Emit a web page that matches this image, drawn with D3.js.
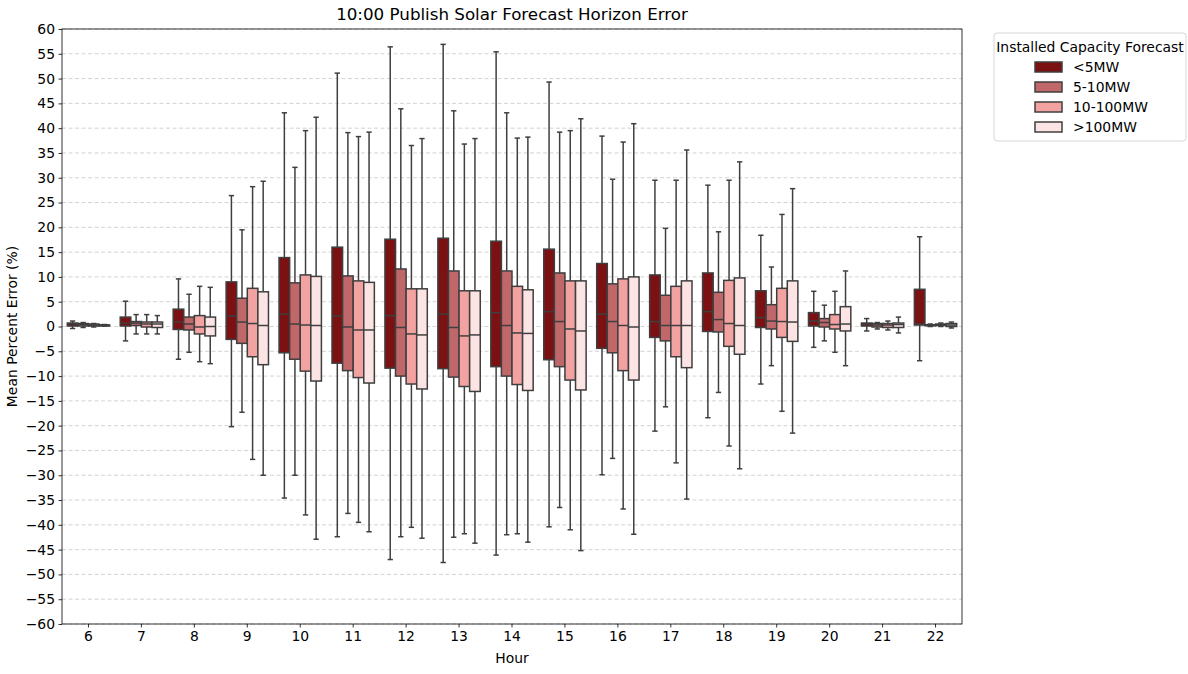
<!DOCTYPE html>
<html>
<head>
<meta charset="utf-8">
<script src="https://cdn.jsdelivr.net/npm/d3@7"></script>
<style>
body { margin: 0; background: #fff; }
svg { font-family: "DejaVu Sans", sans-serif; }
</style>
</head>
<body>
<svg id="chart" width="1188" height="674"></svg>
<script>
// hours on the x axis
var hours = [6, 7, 8, 9, 10, 11, 12, 13, 14, 15, 16, 17, 18, 19, 20, 21, 22];
var groups = ["<5MW", "5-10MW", "10-100MW", ">100MW"];
var groupColors = ["#7b1113", "#c0676a", "#f3a2a2", "#fde4e4"];
var yTicks = d3.range(-60, 61, 5);

// [whisker low, q1, median, q3, whisker high] per hour
var lt5 = [
  [-0.4, 0.1, 0.5, 0.7, 1.1], [-2.9, 0.1, 0.7, 1.9, 5.1], [-6.6, -0.6, 0.9, 3.5, 9.6],
  [-20.2, -2.6, 2.1, 9.0, 26.4], [-34.6, -5.3, 2.5, 13.9, 43.1], [-42.4, -7.4, 2.1, 16.0, 51.1],
  [-47.0, -8.4, 2.2, 17.6, 56.4], [-47.6, -8.5, 2.5, 17.8, 56.9], [-46.1, -8.1, 2.8, 17.2, 55.4],
  [-40.4, -6.7, 3.0, 15.6, 49.3], [-29.9, -4.4, 2.5, 12.7, 38.4], [-21.1, -2.2, 1.0, 10.4, 29.5],
  [-18.4, -1.0, 3.0, 10.8, 28.5], [-11.6, -0.2, 1.8, 7.2, 18.4], [-4.2, 0.1, 1.1, 2.8, 7.1],
  [-0.9, 0.1, 0.5, 0.7, 1.6], [-6.9, 0.3, 0.5, 7.5, 18.1]
];
var mw5to10 = [
  [-0.2, 0.1, 0.4, 0.6, 0.8], [-1.5, 0.2, 0.7, 1.0, 2.4], [-5.2, -0.7, 0.5, 1.9, 6.5],
  [-17.3, -3.4, 0.9, 5.7, 19.5], [-30.0, -6.6, 0.5, 8.8, 32.1], [-37.7, -8.9, -0.1, 10.2, 39.1],
  [-42.4, -10.0, -0.2, 11.6, 43.9], [-42.5, -10.2, -0.2, 11.2, 43.5], [-42.0, -10.0, 0.2, 11.2, 43.1],
  [-36.5, -8.1, 1.0, 10.8, 39.2], [-26.6, -5.3, 1.0, 8.6, 29.7], [-16.2, -2.9, 0.2, 6.3, 19.8],
  [-13.3, -1.1, 1.4, 6.9, 19.1], [-7.9, -0.5, 1.1, 4.4, 12.0], [-2.9, -0.1, 0.8, 1.6, 4.3],
  [-0.5, -0.1, 0.3, 0.6, 0.8], [0.0, 0.15, 0.25, 0.35, 0.5]
];
var mw10to100 = [
  [-0.1, 0.1, 0.3, 0.5, 0.6], [-1.5, -0.1, 0.5, 0.9, 2.4], [-7.1, -1.5, -0.1, 2.2, 8.1],
  [-26.8, -6.1, 0.6, 7.7, 28.2], [-38.0, -9.0, 0.3, 10.4, 39.5], [-39.5, -10.3, -0.7, 9.2, 38.3],
  [-40.5, -11.6, -1.5, 7.6, 36.5], [-41.8, -12.1, -1.9, 7.2, 36.8], [-41.8, -11.7, -1.3, 8.1, 38.0],
  [-41.0, -10.8, -0.5, 9.2, 39.5], [-36.8, -8.9, 0.2, 9.6, 37.2], [-27.5, -6.1, 0.2, 8.1, 29.5],
  [-24.1, -4.0, 0.6, 9.3, 29.5], [-17.1, -2.2, 1.0, 7.7, 22.6], [-5.2, -0.5, 0.4, 2.4, 7.1],
  [-0.7, -0.2, 0.3, 0.6, 1.1], [0.0, 0.2, 0.35, 0.5, 0.7]
];
var gt100 = [
  [0.1, 0.1, 0.3, 0.3, 0.4], [-1.5, -0.2, 0.5, 0.9, 2.2], [-7.5, -1.9, 0.0, 1.9, 7.9],
  [-30.0, -7.7, 0.2, 7.0, 29.3], [-42.9, -11.0, 0.2, 10.1, 42.2], [-41.4, -11.4, -0.7, 8.9, 39.2],
  [-42.7, -12.6, -1.7, 7.6, 37.9], [-43.7, -13.1, -1.7, 7.2, 37.9], [-43.5, -12.9, -1.4, 7.4, 38.2],
  [-45.2, -12.8, -0.9, 9.2, 41.9], [-41.9, -10.8, -0.1, 10.0, 40.9], [-34.8, -8.3, 0.2, 9.2, 35.6],
  [-28.7, -5.6, 0.2, 9.8, 33.2], [-21.5, -3.0, 0.9, 9.2, 27.8], [-7.9, -0.9, 0.5, 4.0, 11.2],
  [-1.3, -0.2, 0.4, 0.7, 1.9], [-0.3, 0.0, 0.3, 0.6, 0.9]
];
var seriesStats = [lt5, mw5to10, mw10to100, gt100];

var svg = d3.select("#chart");
var plotLeft = 62, plotRight = 962, plotTop = 29, plotBottom = 624;
var lineColor = "#3f3f3f";

var x = d3.scaleBand().domain(hours).range([plotLeft, plotRight]).padding(0);
var inner = d3.scaleBand().domain(groups)
  .range([x.bandwidth() * 0.1, x.bandwidth() * 0.9]).padding(0);
var y = d3.scaleLinear().domain([-60, 60]).range([plotBottom, plotTop]);

// dashed grid
svg.append("g").selectAll("line").data(yTicks).enter().append("line")
  .attr("x1", plotLeft).attr("x2", plotRight)
  .attr("y1", function(d) { return y(d); }).attr("y2", function(d) { return y(d); })
  .attr("stroke", "#c8c8c8").attr("stroke-width", 0.8)
  .attr("stroke-dasharray", "4,2.5");

// flatten to boxes
var boxes = [];
seriesStats.forEach(function(arr, gi) {
  arr.forEach(function(s, hi) {
    boxes.push({hour: hours[hi], group: groups[gi], color: groupColors[gi],
      lo: s[0], q1: s[1], med: s[2], q3: s[3], hi: s[4]});
  });
});

var bw = inner.bandwidth();
var capW = bw * 0.5;
var bg = svg.append("g").selectAll("g").data(boxes).enter().append("g")
  .attr("transform", function(d) { return "translate(" + (x(d.hour) + inner(d.group)) + ",0)"; });

// whiskers
bg.append("line").attr("x1", bw / 2).attr("x2", bw / 2)
  .attr("y1", function(d) { return y(d.q3); }).attr("y2", function(d) { return y(d.hi); })
  .attr("stroke", lineColor).attr("stroke-width", 1.5);
bg.append("line").attr("x1", bw / 2).attr("x2", bw / 2)
  .attr("y1", function(d) { return y(d.q1); }).attr("y2", function(d) { return y(d.lo); })
  .attr("stroke", lineColor).attr("stroke-width", 1.5);
// caps
bg.append("line").attr("x1", bw / 2 - capW / 2).attr("x2", bw / 2 + capW / 2)
  .attr("y1", function(d) { return y(d.hi); }).attr("y2", function(d) { return y(d.hi); })
  .attr("stroke", lineColor).attr("stroke-width", 1.5);
bg.append("line").attr("x1", bw / 2 - capW / 2).attr("x2", bw / 2 + capW / 2)
  .attr("y1", function(d) { return y(d.lo); }).attr("y2", function(d) { return y(d.lo); })
  .attr("stroke", lineColor).attr("stroke-width", 1.5);
// box
bg.append("rect").attr("x", 0).attr("width", bw)
  .attr("y", function(d) { return y(d.q3); })
  .attr("height", function(d) { return Math.max(0.5, y(d.q1) - y(d.q3)); })
  .attr("fill", function(d) { return d.color; })
  .attr("stroke", lineColor).attr("stroke-width", 1.5);
// median
bg.append("line").attr("x1", 0).attr("x2", bw)
  .attr("y1", function(d) { return y(d.med); }).attr("y2", function(d) { return y(d.med); })
  .attr("stroke", lineColor).attr("stroke-width", 1.5);

// axes
var xAxis = svg.append("g").attr("transform", "translate(0," + plotBottom + ")")
  .call(d3.axisBottom(x).tickSize(3.5).tickPadding(3.5));
var yAxis = svg.append("g").attr("transform", "translate(" + plotLeft + ",0)")
  .call(d3.axisLeft(y).tickValues(yTicks).tickSize(3.5).tickPadding(3.5)
    .tickFormat(function(d) { return d < 0 ? "\u2212" + Math.abs(d) : d; }));
[xAxis, yAxis].forEach(function(a) {
  a.selectAll("text").attr("font-size", 13.9).attr("fill", "#000")
    .attr("font-family", "DejaVu Sans, sans-serif");
  a.selectAll("line").attr("stroke", "#000").attr("stroke-width", 0.8);
  a.select(".domain").remove();
});

// frame
svg.append("rect").attr("x", plotLeft).attr("y", plotTop)
  .attr("width", plotRight - plotLeft).attr("height", plotBottom - plotTop)
  .attr("fill", "none").attr("stroke", "#000").attr("stroke-width", 0.8);

// titles
svg.append("text").attr("x", (plotLeft + plotRight) / 2).attr("y", 20)
  .attr("text-anchor", "middle").attr("font-size", 16.7)
  .text("10:00 Publish Solar Forecast Horizon Error");
svg.append("text").attr("x", (plotLeft + plotRight) / 2).attr("y", 663)
  .attr("text-anchor", "middle").attr("font-size", 13.9).text("Hour");
svg.append("text").attr("transform", "translate(17," + ((plotTop + plotBottom) / 2) + ") rotate(-90)")
  .attr("text-anchor", "middle").attr("font-size", 13.9).text("Mean Percent Error (%)");

// legend
var lg = svg.append("g");
lg.append("rect").attr("x", 994).attr("y", 33).attr("width", 192).attr("height", 108)
  .attr("rx", 3).attr("fill", "#fff").attr("stroke", "#d6d6d6").attr("stroke-width", 1);
lg.append("text").attr("x", 1090).attr("y", 52).attr("text-anchor", "middle")
  .attr("font-size", 13.9).text("Installed Capacity Forecast");
var items = lg.selectAll("g.item").data(groups).enter().append("g")
  .attr("transform", function(d, i) { return "translate(0," + (67 + i * 20) + ")"; });
items.append("rect").attr("x", 1035).attr("y", -5).attr("width", 27).attr("height", 10)
  .attr("fill", function(d, i) { return groupColors[i]; })
  .attr("stroke", lineColor).attr("stroke-width", 1.5);
items.append("text").attr("x", 1073).attr("y", 5).attr("font-size", 13.9)
  .text(function(d) { return d; });
</script>
</body>
</html>
